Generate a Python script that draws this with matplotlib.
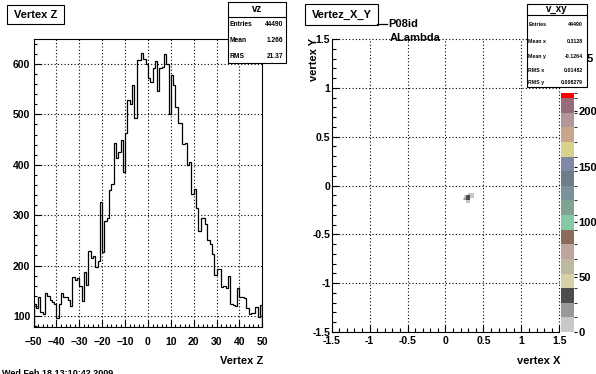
import numpy as np
import matplotlib
matplotlib.use("Agg")
import matplotlib.pyplot as plt
from matplotlib.patches import Rectangle
from matplotlib.lines import Line2D
from matplotlib.colors import ListedColormap, BoundaryNorm
import matplotlib.cm as cm

plt.rcParams['font.family'] = ['Liberation Sans', 'DejaVu Sans']
plt.rcParams['font.weight'] = 'bold'

# ---- data: Vertex Z histogram (100 bins, -50..50)
vz_edges = np.arange(-50, 51, 1)
vz_counts = [
    123, 116, 137, 108, 104, 146, 140, 132, 128, 124,
    96, 124, 146, 138, 138, 131, 120, 178, 171, 176,
    160, 129, 187, 161, 229, 214, 219, 198, 209, 327,
    226, 288, 294, 349, 362, 443, 413, 425, 450, 385,
    463, 528, 520, 559, 493, 608, 608, 621, 609, 600,
    573, 565, 593, 605, 546, 593, 595, 620, 600, 501,
    579, 559, 514, 483, 482, 441, 443, 400, 405, 341,
    352, 315, 269, 294, 294, 282, 251, 242, 222, 182,
    193, 193, 158, 160, 155, 179, 124, 122, 120, 156,
    138, 138, 136, 116, 104, 106, 106, 118, 98, 122]
vz_stats = [("Entries", "44490"), ("Mean", "1.266"), ("RMS", "21.37")]

# ---- data: vertex X/Y 2D histogram (only the populated corner)
xy_xedges = [0.225, 0.25, 0.275, 0.30, 0.325, 0.35, 0.375]
xy_yedges = [-0.175, -0.15, -0.125, -0.10, -0.075]
xy_counts = [
    [0, 0, 6, 8, 0, 0],
    [10, 22, 36, 30, 0, 0],
    [0, 7, 34, 28, 9, 4],
    [0, 0, 0, 6, 10, 5]]
xy_stats = [("Entries", "44490"), ("Mean x", "0.3128"), ("Mean y", "-0.1264"),
            ("RMS x", "0.01482"), ("RMS y", "0.008279")]

pal_colors = ['#c8c8c8', '#999999', '#4d4d4d', '#d8d0a6', '#bdb8a0', '#bfa69c',
              '#8c6a5c', '#84c8a6', '#80a290', '#7a9299', '#6e7e88', '#8088a8',
              '#d8d28c', '#c8a68a', '#b29699', '#966c7a', '#ff0000']
pal_bounds = list(np.arange(0, 13.25 * 17, 13.25)) + [217]
pal_ticks = [0, 50, 100, 150, 200]

W, H = 596, 374
def fx(x): return x / W
def fy(y): return 1 - y / H

fig = plt.figure(figsize=(W / 100, H / 100), dpi=100)
fig.patch.set_facecolor('white')

def grid_lines(ax, xs, ys):
    for x in xs:
        ax.axvline(x, color='black', lw=0.8, ls=(0, (1, 2)), clip_on=False, zorder=1)
    for y in ys:
        ax.axhline(y, color='black', lw=0.8, ls=(0, (1, 2)), clip_on=False, zorder=1)

def stats_box(x0, y0, x1, y1, ty, title, tfs, rows, row_ys, lx, vx, fs):
    fig.add_artist(Rectangle((fx(x0), fy(y1)), fx(x1) - fx(x0), fy(y0) - fy(y1),
                             transform=fig.transFigure, fc='white', ec='black', lw=0.8, zorder=10))
    fig.add_artist(Line2D([fx(x0), fx(x1)], [fy(ty), fy(ty)], transform=fig.transFigure,
                          color='black', lw=0.8, zorder=11))
    fig.text(fx((x0 + x1) / 2), fy((y0 + ty) / 2), title, ha='center', va='center',
             fontsize=tfs, zorder=12)
    for (lab, val), ry in zip(rows, row_ys):
        fig.text(fx(lx), fy(ry), lab, ha='left', va='center', fontsize=fs, zorder=12)
        fig.text(fx(vx), fy(ry), val, ha='right', va='center', fontsize=fs, zorder=12)

def title_box(x0, y0, x1, y1, txt):
    fig.add_artist(Rectangle((fx(x0), fy(y1)), fx(x1) - fx(x0), fy(y0) - fy(y1),
                             transform=fig.transFigure, fc='white', ec='black', lw=0.8, zorder=10))
    fig.text(fx((x0 + x1) / 2), fy((y0 + y1) / 2), txt, ha='center', va='center',
             fontsize=8, zorder=12)

# ---- left panel
ax1 = fig.add_axes([fx(33.6), fy(327), fx(262.3) - fx(33.6), fy(39.3) - fy(327)])
ax1.stairs(vz_counts, vz_edges, color='black', lw=0.9, zorder=3)
ax1.set_xlim(-50, 50)
ax1.set_ylim(78, 649)
ax1.set_xticks(np.arange(-50, 51, 10))
ax1.set_xticks(np.arange(-50, 51, 2), minor=True)
ax1.set_yticks(np.arange(100, 601, 100))
ax1.set_yticks(np.arange(80, 641, 20), minor=True)
ax1.tick_params(direction='in', which='major', length=5, width=0.8, labelsize=7.5)
ax1.tick_params(direction='in', which='minor', length=2.5, width=0.8)
ax1.tick_params(axis='x', pad=7)
ax1.tick_params(axis='y', pad=2.5)
for s in ax1.spines.values():
    s.set_linewidth(0.8)
grid_lines(ax1, np.arange(-40, 41, 10), np.arange(100, 601, 100))
fig.text(fx(263), fy(361), "Vertex Z", ha='right', va='center', fontsize=8)

# ---- right panel
ax2 = fig.add_axes([fx(331.7), fy(332), fx(559.3) - fx(331.7), fy(39) - fy(332)])
cmap = ListedColormap(pal_colors)
norm = BoundaryNorm(pal_bounds, cmap.N)
counts = np.ma.masked_equal(np.array(xy_counts), 0)
ax2.pcolormesh(xy_xedges, xy_yedges, counts, cmap=cmap, norm=norm, zorder=3,
               edgecolors='none', antialiased=False)
ax2.set_xlim(-1.5, 1.5)
ax2.set_ylim(-1.5, 1.5)
ax2.set_xticks(np.arange(-1.5, 1.51, 0.5))
ax2.set_xticklabels(['-1.5', '-1', '-0.5', '0', '0.5', '1', '1.5'])
ax2.set_yticks(np.arange(-1.5, 1.51, 0.5))
ax2.set_yticklabels(['-1.5', '-1', '-0.5', '0', '0.5', '1', '1.5'])
ax2.set_xticks(np.arange(-1.5, 1.51, 0.1), minor=True)
ax2.set_yticks(np.arange(-1.5, 1.51, 0.1), minor=True)
ax2.tick_params(direction='in', which='major', length=5, width=0.8, labelsize=7.5)
ax2.tick_params(direction='in', which='minor', length=3, width=0.8)
ax2.tick_params(axis='x', pad=3)
ax2.tick_params(axis='y', pad=1)
ax2.spines['top'].set_visible(False)
ax2.spines['right'].set_visible(False)
for s in ax2.spines.values():
    s.set_linewidth(0.8)
grid_lines(ax2, np.arange(-1.0, 1.51, 0.5), np.arange(-1.0, 1.51, 0.5))
fig.text(fx(560), fy(361), "vertex X", ha='right', va='center', fontsize=8)
fig.text(fx(314), fy(38), "vertex Y", ha='center', va='top', rotation=90, fontsize=8)

# ---- palette
cax = fig.add_axes([fx(560.5), fy(332), fx(574) - fx(560.5), fy(92.7) - fy(332)])
sm = cm.ScalarMappable(norm=norm, cmap=cmap)
cb = fig.colorbar(sm, cax=cax, ticks=pal_ticks, spacing='proportional')
cb.outline.set_visible(False)
cax.tick_params(length=2.5, width=0.8, direction='out', labelsize=8, pad=0.5)
fig.text(fx(587), fy(59), "5", ha='left', va='center', fontsize=8, zorder=12)

# ---- boxes and labels
title_box(7.3, 5, 64, 24, "Vertex Z")
stats_box(227.7, 1.7, 286, 63.3, 16.7, "vz", 7, vz_stats, [25, 41, 56], 229.5, 283.5, 4.8)
title_box(305, 4, 378.3, 25, "Vertez_X_Y")
fig.add_artist(Line2D([fx(377.3), fx(387.3)], [fy(24), fy(24)], transform=fig.transFigure,
                      color='black', lw=0.9, zorder=11))
fig.text(fx(388.5), fy(24), "P08id", ha='left', va='center', fontsize=8, zorder=12)
fig.text(fx(389.5), fy(38), "ALambda", ha='left', va='center', fontsize=8, zorder=12)
stats_box(526.7, 4, 586.7, 87, 15, "v_xy", 7, xy_stats, [25, 41.7, 56.7, 70.5, 82.5],
          528.3, 583, 3.8)

fig.text(fx(2), fy(369.5), "Wed Feb 18 13:10:42 2009", ha='left', va='top', fontsize=6.5)

fig.savefig("out.png", dpi=100)
